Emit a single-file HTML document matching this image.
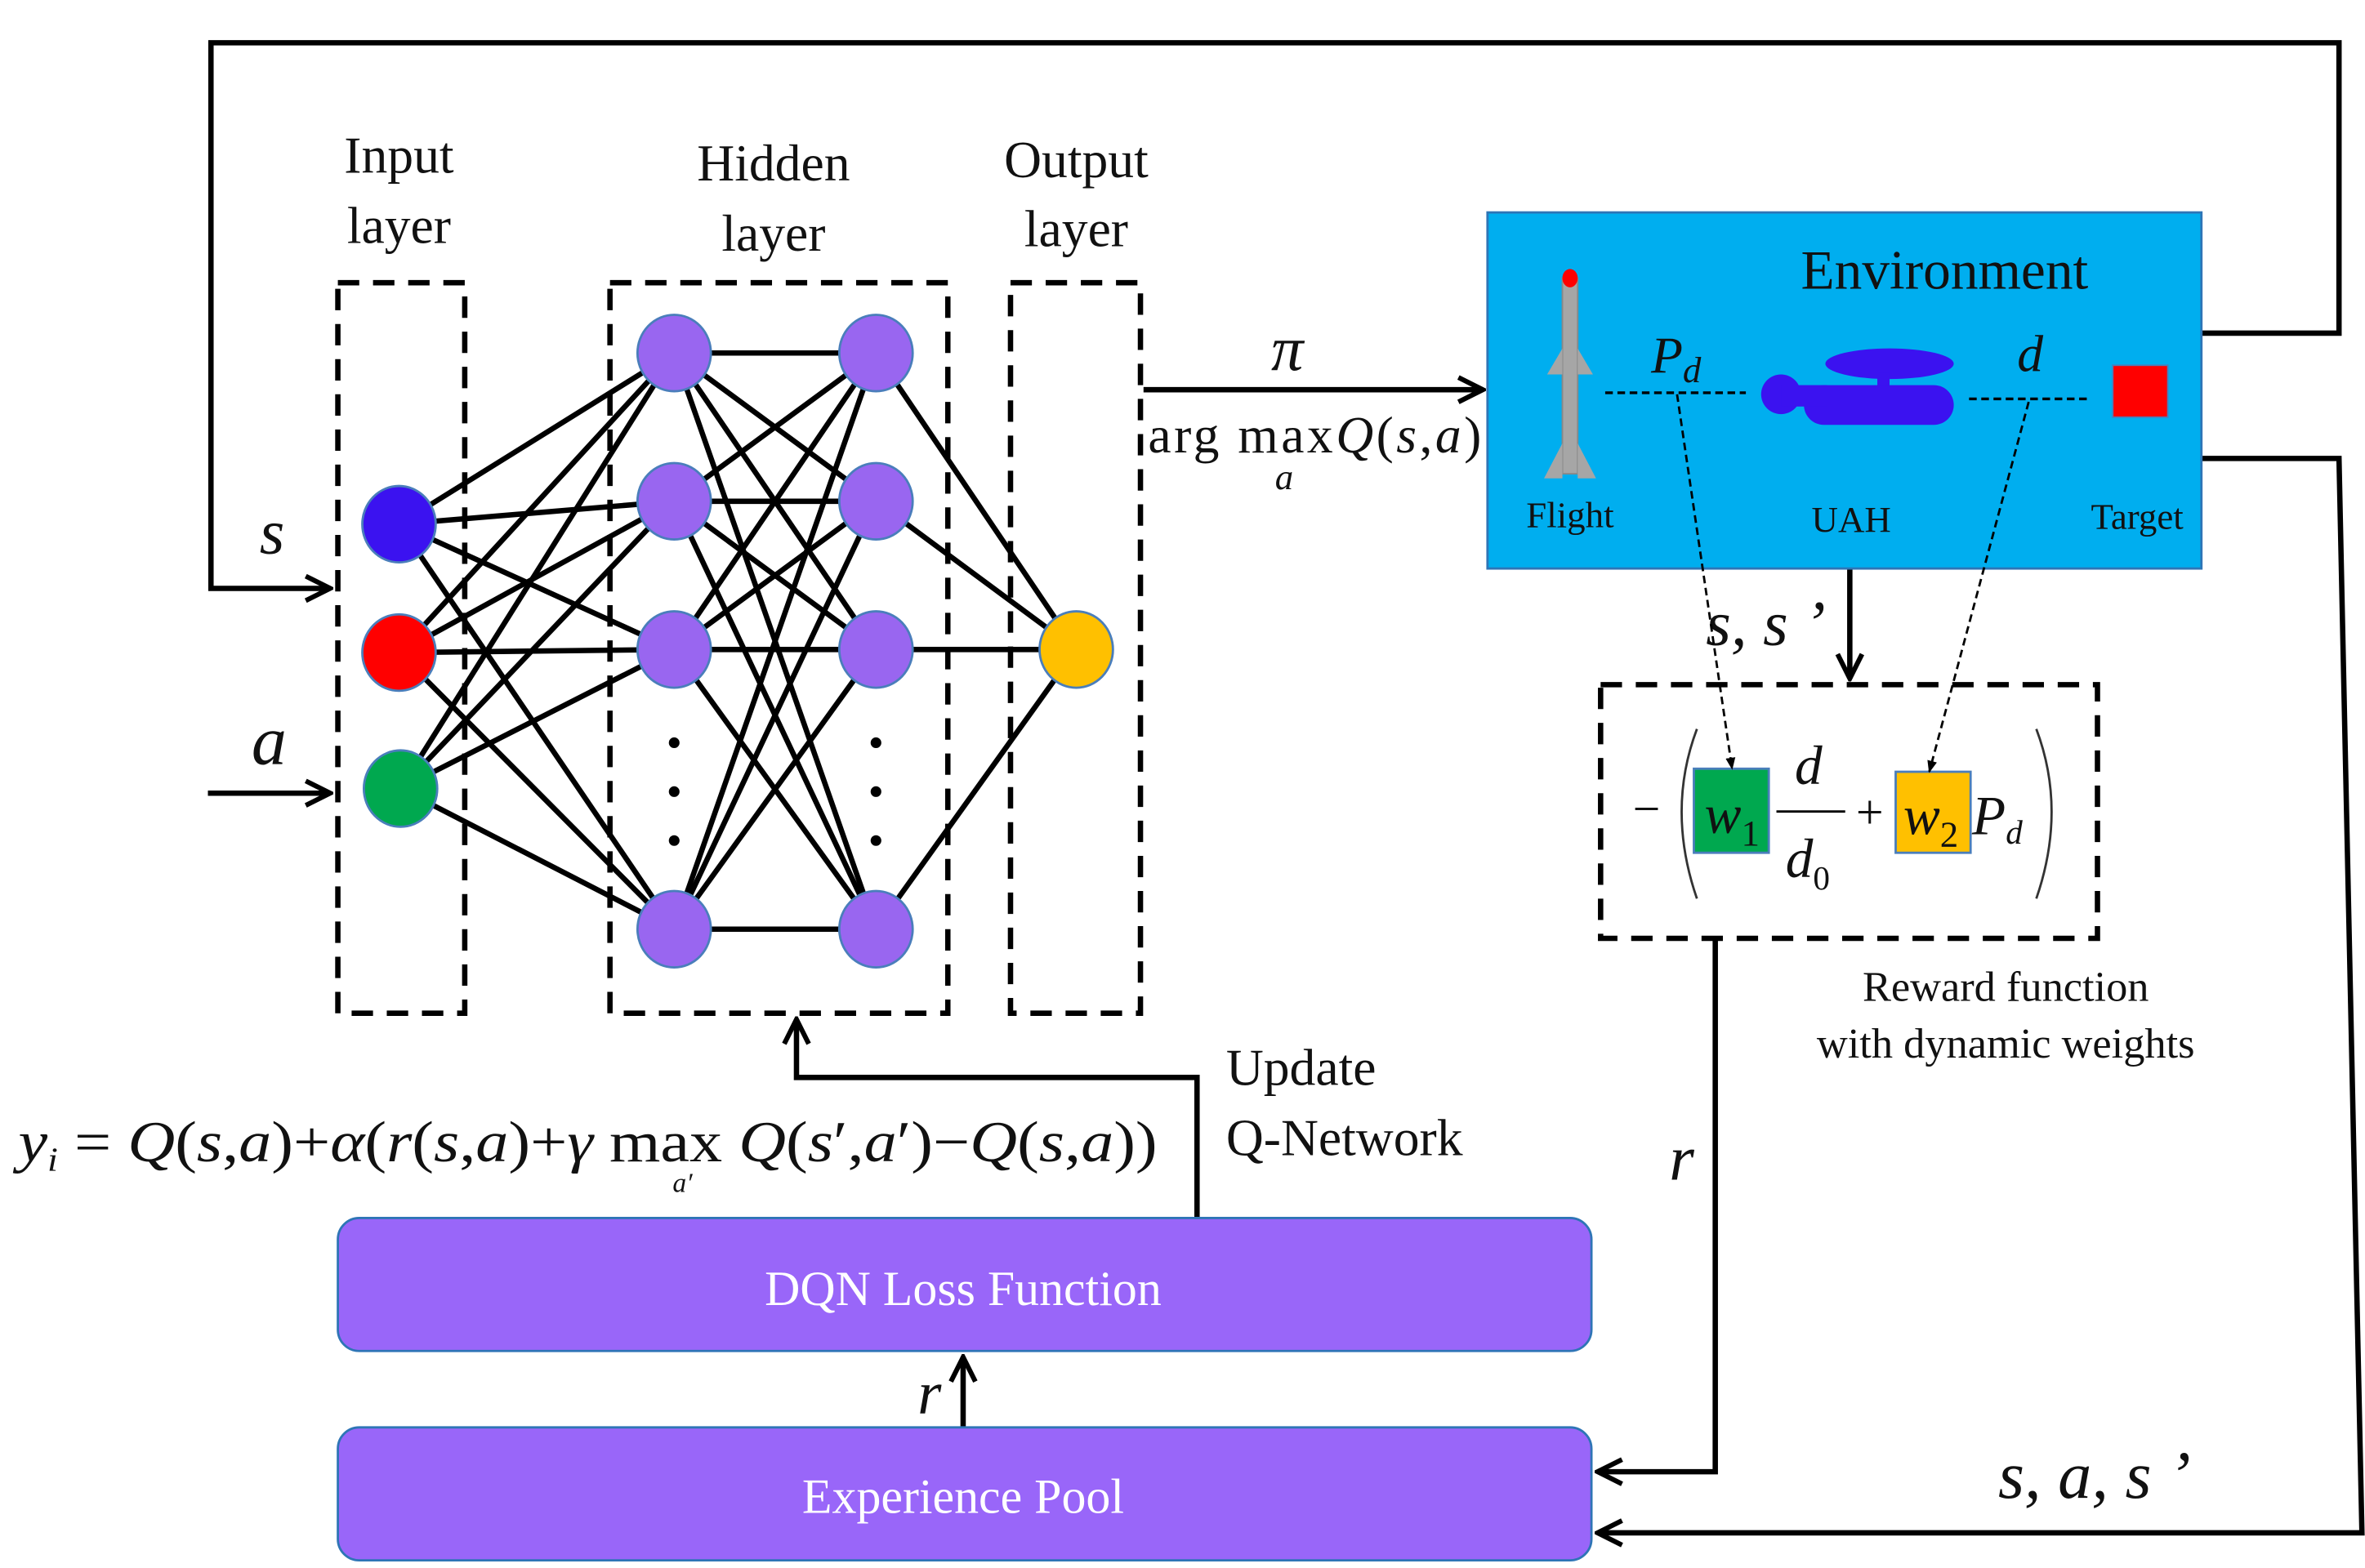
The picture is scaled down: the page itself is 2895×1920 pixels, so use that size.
<!DOCTYPE html>
<html><head><meta charset="utf-8"><style>
html,body{margin:0;padding:0;background:#fff}
svg{display:block}
text{font-family:"Liberation Serif",serif;fill:#111}
.it{font-style:italic}
</style></head><body>
<svg width="2895" height="1920" viewBox="0 0 1547 1026" preserveAspectRatio="none" xmlns="http://www.w3.org/2000/svg">
<defs>
<marker id="ab" viewBox="0 0 10 10" refX="9" refY="5" markerWidth="20" markerHeight="20" orient="auto" markerUnits="userSpaceOnUse"><path d="M1,1 L9,5 L1,9" fill="none" stroke="#000" stroke-width="1.6"/></marker>
<marker id="as" viewBox="0 0 10 10" refX="9" refY="5" markerWidth="8" markerHeight="8" orient="auto" markerUnits="userSpaceOnUse"><path d="M0,1 L10,5 L0,9z" fill="#000"/></marker>
</defs>

<g font-size="34" text-anchor="middle">
<text x="261" y="113">Input</text><text x="261" y="159">layer</text>
<text x="506" y="118">Hidden</text><text x="506" y="164">layer</text>
<text x="704" y="116">Output</text><text x="704" y="161">layer</text>
</g>

<g fill="none" stroke="#000" stroke-width="3.5" stroke-dasharray="14,9">
<rect x="221" y="185" width="83" height="478"/>
<rect x="399" y="185" width="221" height="478"/>
<rect x="661" y="185" width="85" height="478"/>
</g>

<g stroke="#000" stroke-width="3.5">
<line x1="261" y1="343" x2="441" y2="231"/><line x1="261" y1="343" x2="441" y2="328"/><line x1="261" y1="343" x2="441" y2="425"/><line x1="261" y1="343" x2="441" y2="608"/>
<line x1="261" y1="427" x2="441" y2="231"/><line x1="261" y1="427" x2="441" y2="328"/><line x1="261" y1="427" x2="441" y2="425"/><line x1="261" y1="427" x2="441" y2="608"/>
<line x1="262" y1="516" x2="441" y2="231"/><line x1="262" y1="516" x2="441" y2="328"/><line x1="262" y1="516" x2="441" y2="425"/><line x1="262" y1="516" x2="441" y2="608"/>
<line x1="441" y1="231" x2="573" y2="231"/><line x1="441" y1="231" x2="573" y2="328"/><line x1="441" y1="231" x2="573" y2="425"/><line x1="441" y1="231" x2="573" y2="608"/>
<line x1="441" y1="328" x2="573" y2="231"/><line x1="441" y1="328" x2="573" y2="328"/><line x1="441" y1="328" x2="573" y2="425"/><line x1="441" y1="328" x2="573" y2="608"/>
<line x1="441" y1="425" x2="573" y2="231"/><line x1="441" y1="425" x2="573" y2="328"/><line x1="441" y1="425" x2="573" y2="425"/><line x1="441" y1="425" x2="573" y2="608"/>
<line x1="441" y1="608" x2="573" y2="231"/><line x1="441" y1="608" x2="573" y2="328"/><line x1="441" y1="608" x2="573" y2="425"/><line x1="441" y1="608" x2="573" y2="608"/>
<line x1="573" y1="231" x2="704" y2="425"/><line x1="573" y1="328" x2="704" y2="425"/><line x1="573" y1="425" x2="704" y2="425"/><line x1="573" y1="608" x2="704" y2="425"/>
</g>

<g stroke="#4a7ebb" stroke-width="1.5">
<ellipse cx="261" cy="343" rx="24" ry="25" fill="#3b12f0"/>
<ellipse cx="261" cy="427" rx="24" ry="25" fill="#ff0000"/>
<ellipse cx="262" cy="516" rx="24" ry="25" fill="#00a84f"/>
<g fill="#9966f0">
<ellipse cx="441" cy="231" rx="24" ry="25"/><ellipse cx="441" cy="328" rx="24" ry="25"/><ellipse cx="441" cy="425" rx="24" ry="25"/><ellipse cx="441" cy="608" rx="24" ry="25"/>
<ellipse cx="573" cy="231" rx="24" ry="25"/><ellipse cx="573" cy="328" rx="24" ry="25"/><ellipse cx="573" cy="425" rx="24" ry="25"/><ellipse cx="573" cy="608" rx="24" ry="25"/>
</g>
<ellipse cx="704" cy="425" rx="24" ry="25" fill="#ffc000"/>
</g>
<g fill="#000">
<circle cx="441" cy="486" r="3.5"/><circle cx="441" cy="518" r="3.5"/><circle cx="441" cy="550" r="3.5"/>
<circle cx="573" cy="486" r="3.5"/><circle cx="573" cy="518" r="3.5"/><circle cx="573" cy="550" r="3.5"/>
</g>

<g fill="none" stroke="#000" stroke-width="3.5">
<polyline points="1440,218 1530,218 1530,28 138,28 138,385 216,385" marker-end="url(#ab)"/>
<line x1="136" y1="519" x2="216" y2="519" marker-end="url(#ab)"/>
<line x1="748" y1="255" x2="970" y2="255" marker-end="url(#ab)"/>
<polyline points="1440,300 1530,300 1545,1003 1045,1003" marker-end="url(#ab)"/>
<polyline points="1122,614 1122,963 1045,963" marker-end="url(#ab)"/>
<line x1="1210" y1="372" x2="1210" y2="444" marker-end="url(#ab)"/>
<polyline points="783,797 783,705 521,705 521,667" marker-end="url(#ab)"/>
<line x1="630" y1="934" x2="630" y2="888" marker-end="url(#ab)"/>
</g>
<text x="178" y="362" font-size="42" class="it" text-anchor="middle">s</text>
<text x="176" y="500" font-size="46" class="it" text-anchor="middle">a</text>
<text x="842" y="242" font-size="42" class="it" text-anchor="middle">π</text>
<text x="751" y="296" font-size="34" textLength="218">arg max<tspan class="it">Q</tspan>(<tspan class="it">s</tspan>,<tspan class="it">a</tspan>)</text>
<text x="840" y="320" font-size="24" class="it" text-anchor="middle">a</text>

<rect x="973" y="139" width="467" height="233" fill="#00aeef" stroke="#2e75b6" stroke-width="1.5"/>
<text x="1272" y="189" font-size="36" text-anchor="middle">Environment</text>
<rect x="1022" y="182" width="10" height="128" fill="#a6a6a6" stroke="#888" stroke-width="1"/>
<ellipse cx="1027" cy="182" rx="5" ry="6" fill="#ff0000"/>
<polygon points="1022,228 1012,245 1022,245" fill="#a6a6a6"/><polygon points="1032,228 1042,245 1032,245" fill="#a6a6a6"/>
<polygon points="1022,290 1010,313 1022,313" fill="#a6a6a6"/><polygon points="1032,290 1044,313 1032,313" fill="#a6a6a6"/>
<text x="1027" y="345" font-size="24" text-anchor="middle">Flight</text>
<text x="1211" y="348" font-size="24" text-anchor="middle">UAH</text>
<text x="1398" y="346" font-size="24" text-anchor="middle">Target</text>
<g fill="#3b12f0">
<ellipse cx="1236" cy="238" rx="42" ry="10"/>
<rect x="1228" y="244" width="8" height="14"/>
<rect x="1180" y="252" width="98" height="26" rx="13"/>
<circle cx="1165" cy="258" r="13"/>
<rect x="1165" y="252" width="30" height="14"/>
</g>
<rect x="1382" y="239" width="36" height="34" fill="#ff0000" stroke="#4a7ebb" stroke-width="1"/>
<g stroke="#000" stroke-width="1.8" stroke-dasharray="5,3" fill="none">
<line x1="1050" y1="257" x2="1142" y2="257"/>
<line x1="1288" y1="261" x2="1367" y2="261"/>
</g>
<text x="1080" y="244" font-size="34" class="it">P<tspan font-size="24" dy="6">d</tspan></text>
<text x="1328" y="243" font-size="34" class="it" text-anchor="middle">d</text>

<text x="1155" y="422" font-size="42" class="it" text-anchor="middle">s, s ’</text>

<rect x="1047" y="448" width="325" height="166" fill="none" stroke="#000" stroke-width="3.5" stroke-dasharray="14,9"/>
<text x="1068" y="540" font-size="32">−</text>
<path d="M1110,477 Q1090,530 1110,588" fill="none" stroke="#333" stroke-width="1.5"/>
<path d="M1332,477 Q1352,530 1332,588" fill="none" stroke="#333" stroke-width="1.5"/>
<rect x="1108" y="503" width="49" height="55" fill="#00a84f" stroke="#4a7ebb" stroke-width="1.5"/>
<text x="1115" y="545" font-size="36" class="it">w<tspan font-size="24" dy="8" font-style="normal">1</tspan></text>
<text x="1183" y="513" font-size="36" class="it" text-anchor="middle">d</text>
<line x1="1162" y1="531" x2="1207" y2="531" stroke="#000" stroke-width="1.5"/>
<text x="1168" y="574" font-size="36" class="it">d<tspan font-size="22" dy="8" font-style="normal">0</tspan></text>
<text x="1214" y="542" font-size="32">+</text>
<rect x="1240" y="505" width="49" height="53" fill="#ffc000" stroke="#4a7ebb" stroke-width="1.5"/>
<text x="1245" y="546" font-size="36" class="it">w<tspan font-size="24" dy="8" font-style="normal">2</tspan></text>
<text x="1290" y="546" font-size="36" class="it">P<tspan font-size="22" dy="6">d</tspan></text>
<g stroke="#000" stroke-width="1.5" stroke-dasharray="5,3" fill="none">
<line x1="1097" y1="258" x2="1133" y2="503" marker-end="url(#as)"/>
<line x1="1327" y1="263" x2="1262" y2="505" marker-end="url(#as)"/>
</g>
<text x="1312" y="655" font-size="28" text-anchor="middle">Reward function</text>
<text x="1312" y="692" font-size="28" text-anchor="middle">with dynamic weights</text>
<text x="1100" y="772" font-size="42" class="it" text-anchor="middle">r</text>
<text x="1370" y="980" font-size="44" class="it" text-anchor="middle">s, a, s ’</text>

<text x="802" y="710" font-size="34">Update</text>
<text x="802" y="756" font-size="34">Q-Network</text>
<text x="12" y="760" font-size="38" textLength="745" lengthAdjust="spacingAndGlyphs"><tspan class="it">y<tspan font-size="22" dy="6">i</tspan></tspan><tspan dy="-6"> = </tspan><tspan class="it">Q</tspan>(<tspan class="it">s</tspan>,<tspan class="it">a</tspan>)+<tspan class="it">α</tspan>(<tspan class="it">r</tspan>(<tspan class="it">s</tspan>,<tspan class="it">a</tspan>)+<tspan class="it">γ</tspan> max <tspan class="it">Q</tspan>(<tspan class="it">s</tspan>′,<tspan class="it">a</tspan>′)−<tspan class="it">Q</tspan>(<tspan class="it">s</tspan>,<tspan class="it">a</tspan>))</text>
<text x="440" y="780" font-size="18" class="it">a′</text>

<rect x="221" y="797" width="820" height="87" rx="14" fill="#9966f9" stroke="#2e75b6" stroke-width="1.5"/>
<text x="630" y="854" font-size="32" text-anchor="middle" style="fill:#fff">DQN Loss Function</text>
<rect x="221" y="934" width="820" height="87" rx="14" fill="#9966f9" stroke="#2e75b6" stroke-width="1.5"/>
<text x="630" y="990" font-size="32" text-anchor="middle" style="fill:#fff">Experience Pool</text>
<text x="608" y="925" font-size="40" class="it" text-anchor="middle">r</text>
</svg>
</body></html>
